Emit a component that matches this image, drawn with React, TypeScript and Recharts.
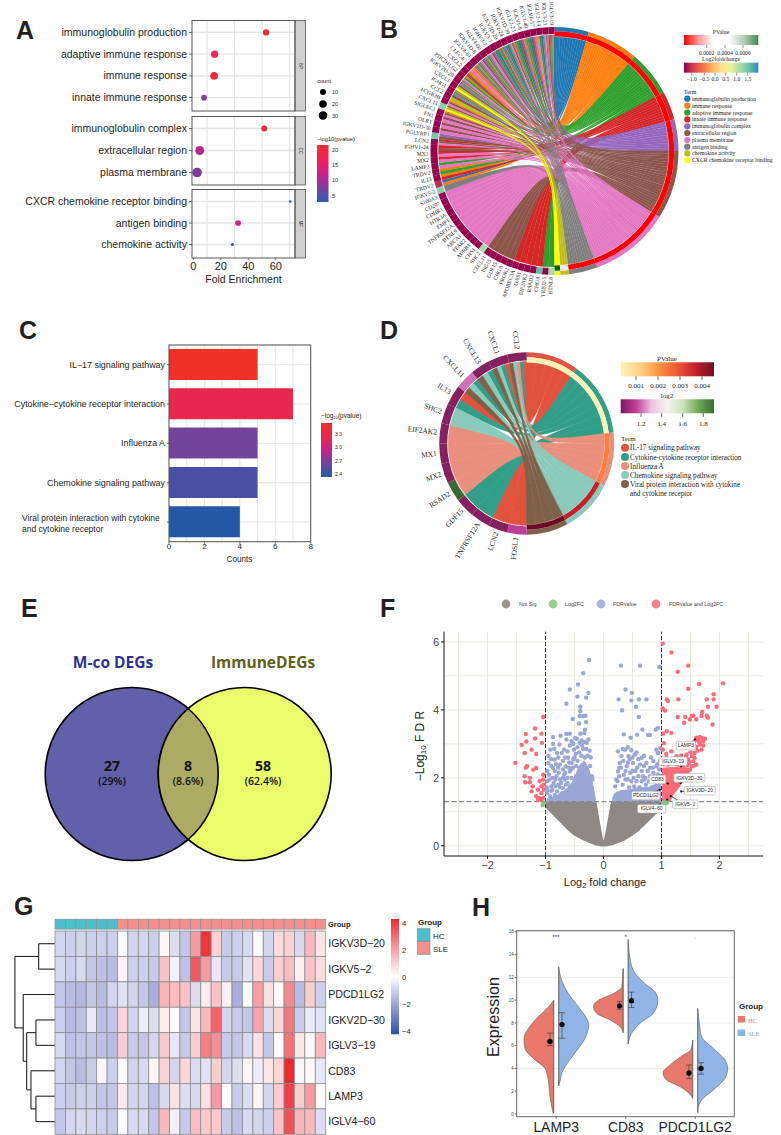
import {
  Area,
  Bar,
  BarChart,
  CartesianGrid,
  Cell,
  ComposedChart,
  Customized,
  ErrorBar,
  Pie,
  PieChart,
  ReferenceLine,
  Scatter,
  ScatterChart,
  XAxis,
  YAxis,
  ZAxis,
} from 'recharts';

const PAGE_W = 781;
const PAGE_H = 1135;
const SANS = '"Liberation Sans", Arial, sans-serif';
const SERIF = '"Liberation Serif", "Times New Roman", serif';
const OPEN = '"Open Sans", sans-serif';

// ---- A: GO dot plot ----
const bpTerms = ['immunoglobulin production', 'adaptive immune response', 'immune response', 'innate immune response'];
const bpFold = [52.9, 15.5, 15.1, 7.8];
const bpCount = [12, 16, 18, 10];
const bpLogP = [20, 18, 20, 9];
const ccTerms = ['immunoglobulin complex', 'extracellular region', 'plasma membrane'];
const ccFold = [51.6, 4.6, 2.7];
const ccCount = [11, 24, 28];
const ccLogP = [20, 13, 9];
const mfTerms = ['CXCR chemokine receptor binding', 'antigen binding', 'chemokine activity'];
const mfFold = [70.5, 32.5, 28.4];
const mfCount = [2, 10, 3];
const mfLogP = [3.5, 14, 4];

// ---- B: GO chord ----
const bTermNames = [
  'immunoglobulin production', 'immune response', 'adaptive immune response', 'innate immune response',
  'immunoglobulin complex', 'extracellular region', 'plasma membrane', 'antigen binding', 'chemokine activity',
  'CXCR chemokine receptor binding',
];
const bTermColors = ['#1f77b4', '#ff7f0e', '#2ca02c', '#d62728', '#9467bd', '#8c564b', '#e377c2', '#7f7f7f', '#bcbd22', '#ffff00'];
const bTermPColors = ['#ff0000', '#ff0000', '#ff0000', '#ff0000', '#ff0000', '#ff0000', '#ff0000', '#ff0000', '#fdeeee', '#006400'];
const bGenes = [
  'BTNL8', 'TRBJ2-5', 'CHGA', 'RSAD2', 'EIF2AK2', 'OAS1', 'APOBEC3A', 'PROK2', 'CHGA', 'GDF15', 'ISG15', 'CXCL11',
  'SHC2', 'CHS1', 'ADRB1', 'FFAR2', 'ABCA1', 'BTNL9', 'TNFRSF12A', 'EMP1', 'HTR3A', 'CDHR1', 'CD207', 'S100A3',
  'IGKV5-2', 'TRDV2', 'IL13', 'TRDV2', 'LAMP3', 'MX2', 'MX1', 'IGHV1-24', 'LCN2', 'PGLYRP1', 'IGKV2D-30', 'OLR1',
  'FN1', 'SIGLEC1', 'CXCL11', 'FCGR3B', 'CCL2', 'IGHG1', 'CXCL1', 'IGKV2D-28', 'PDCD1LG2', 'CXCL2', 'CLEC4C',
  'IGLV8-61', 'IGKV1D-8', 'IGLV4-60', 'IGHV3-7', 'IGKV3-7', 'IGKV3D-20', 'IGKV2-24', 'IGKV1D-39', 'IGLV2-23',
  'IGKV1-8', 'IGLV1-40', 'IGLV6-57', 'IGLV2-14', 'IGLV3-21', 'IGLV3-19',
];
const bGeneTerms = [
  [2], [2], [3], [3], [3], [3], [3], [5], [5], [5], [5], [5],
  [6], [6], [6], [6], [6], [6], [6], [6], [6], [6], [6], [6],
  [7], [0, 1], [1, 3], [1, 2], [2, 6], [3, 6], [3, 6], [3, 5], [3, 5, 6], [4, 5], [5, 6], [5, 6],
  [5, 6], [1, 5, 6], [5, 8, 9], [1, 5, 6], [5, 8], [0, 1, 2, 4, 7], [5, 8, 9], [0, 1, 2, 4, 7], [1, 2, 6], [1, 5], [1, 6],
  [0, 1, 2, 4], [5, 6, 7], [0, 1, 2, 4], [5, 6, 7], [0, 2, 4], [0, 1, 2, 5, 7], [0, 2, 4], [1, 5, 6, 7], [0, 2, 7],
  [1, 4, 5], [0, 2, 7], [1, 4, 5], [0, 2, 6], [1, 4, 6, 7], [0, 1, 2, 4, 5],
];
const bGeneRingDefault = '#97004a';
const bGeneRingOther: Record<number, string> = {
  0: '#a3dcab', 2: '#66bfa8', 12: '#a3dcab', 24: '#86d0ac', 25: '#bb2b52', 33: '#78c9ab', 38: '#86d0ac',
};

// ---- C: KEGG bars ----
const keggTerms = [
  'IL\u221217 signaling pathway', 'Cytokine\u2212cytokine receptor interaction', 'Influenza A',
  'Chemokine signaling pathway', 'Viral protein interaction with cytokine\nand cytokine receptor',
];
const keggCounts = [5, 7, 5, 5, 4];
const keggColors = ['#ef3029', '#e8274c', '#73459a', '#4a4fa2', '#2458a6'];

// ---- D: KEGG chord ----
const dTermNames = [
  'IL-17 signaling pathway', 'Cytokine-cytokine receptor interaction', 'Influenza A', 'Chemokine signaling pathway',
  'Viral protein interaction with cytokine',
];
const dTermColors = ['#e2533f', '#319e88', '#ea8f7d', '#8acabb', '#7e6148'];
const dTermPColors = ['#fdf3b4', '#fdf3b4', '#f9803f', '#c6202c', '#6d0f24'];
const dGenes = ['FOSL1', 'LCN2', 'TNFRSF12A', 'GDF15', 'RSAD2', 'MX2', 'MX1', 'EIF2AK2', 'SHC2', 'IL13', 'CXCL11', 'CXCL13', 'CXCL1', 'CCL2'];
const dGeneTerms = [[0], [0], [1], [1], [2], [2], [2], [2], [3], [0, 1], [1, 3, 4], [1, 3, 4], [0, 1, 3, 4], [0, 1, 2, 3, 4]];
const dGeneRingDefault = '#84215e';
const dGeneRingOther: Record<number, string> = { 0: '#bf3f98', 4: '#3a6b35', 10: '#d070b8' };

// ---- E: Venn ----
const vennSetNames = ['M-co DEGs', 'ImmuneDEGs'];
const vennCounts = [27, 8, 58];
const vennShares = ['(29%)', '(8.6%)', '(62.4%)'];

// ---- F: volcano, x and y ----
const notSigBand = [
  [-1.03, 1.28, 1.3], [-1, 1.16, 1.3], [-0.9, 0.98, 1.3], [-0.75, 0.72, 1.3], [-0.6, 0.46, 1.3], [-0.5, 0.32, 1.3],
  [-0.35, 0.18, 1.3], [-0.25, 0.11, 1.3], [-0.14, 0.04, 1.3], [-0.13, 0.03, 1.25], [-0.09, 0.02, 0.85], [-0.05, 0, 0.45], [-0.015, 0, 0.14],
  [0.015, 0, 0.14], [0.05, 0, 0.42], [0.09, 0.02, 0.8], [0.13, 0.03, 1.2], [0.15, 0.04, 1.3], [0.25, 0.1, 1.3],
  [0.35, 0.17, 1.3], [0.5, 0.33, 1.3], [0.6, 0.45, 1.3], [0.75, 0.7, 1.3], [0.9, 0.95, 1.3], [1, 1.12, 1.3],
].map(([x, lo, hi]) => ({ x, band: [lo, hi] }));
const fdrBandLeft = [
  [-0.98, 1.3, 1.38], [-0.8, 1.3, 1.48], [-0.6, 1.3, 1.7], [-0.5, 1.3, 2.0], [-0.42, 1.3, 2.35],
  [-0.33, 1.3, 2.5], [-0.25, 1.3, 2.25], [-0.18, 1.3, 1.75], [-0.14, 1.3, 1.36],
].map(([x, lo, hi]) => ({ x, band: [lo, hi] }));
const fdrBandRight = [
  [0.15, 1.3, 1.38], [0.2, 1.3, 1.55], [0.3, 1.3, 1.62], [0.45, 1.3, 1.65], [0.6, 1.3, 1.7], [0.8, 1.3, 1.72], [0.99, 1.3, 1.9],
].map(([x, lo, hi]) => ({ x, band: [lo, hi] }));
const bothBand = [
  [1.01, 1.3, 2.28], [1.14, 1.3, 2.3], [1.2, 1.5, 2.3], [1.3, 1.72, 2.3], [1.4, 1.98, 2.3], [1.49, 2.2, 2.28],
].map(([x, lo, hi]) => ({ x, band: [lo, hi] }));
const fdrPoints = [
  [-0.25, 5.47], [-0.35, 5.08], [-0.44, 4.75], [-0.58, 4.6], [-0.26, 4.5], [-0.3, 4.36], [-0.45, 4.39], [-0.64, 4.18],
  [-0.4, 4.09], [-0.4, 3.96], [-0.35, 3.82], [-0.31, 3.83], [-0.41, 3.82], [-0.53, 3.73], [-0.3, 3.64], [-0.42, 3.6],
  [-0.32, 3.42], [-0.33, 3.32], [-0.4, 3.3], [-0.58, 3.3], [-0.64, 3.29], [-0.74, 3.24], [-0.87, 3.2], [-0.49, 3.17],
  [-0.26, 3.13], [-0.87, 3.0], [-0.76, 2.98], [-0.64, 3.13], [-0.55, 3.08], [-0.41, 3.03], [-0.29, 3.03], [-0.68, 2.83],
  [-0.8, 2.73], [-0.92, 2.83], [-0.51, 2.83], [-0.84, 2.54], [-0.72, 2.73], [-0.61, 2.59], [-0.95, 2.44], [-0.87, 2.29],
  [-0.75, 2.39], [-0.65, 2.34], [-0.55, 2.44], [-0.94, 2.09], [-0.81, 2.05], [-0.68, 2.09], [-0.58, 2.19], [-0.9, 1.75],
  [-0.78, 1.8], [-0.65, 1.8], [-0.97, 1.9], [-0.97, 1.55], [-0.84, 1.5], [-0.72, 1.55], [-0.61, 1.65], [-0.45, 2.9],
  [-0.37, 2.95], [-0.5, 2.6], [-0.7, 2.25], [-0.88, 2.0], [-0.83, 1.75], [-0.92, 1.45], [-0.97, 2.2], [-0.62, 2.0],
  [-0.3, 2.85], [-0.22, 2.6], [-0.47, 2.35], [-0.59, 2.45], [-0.77, 2.15], [-0.82, 2.4], [-0.9, 2.55], [-0.66, 2.6],
  [-0.96, 1.62], [-0.9, 1.62], [-0.86, 1.85], [-0.8, 1.6], [-0.75, 1.95], [-0.7, 1.7], [-0.66, 1.55], [-0.62, 1.85],
  [-0.58, 1.75], [-0.55, 2.0], [-0.53, 2.3], [-0.52, 1.72], [-0.7, 2.0], [-0.73, 1.85], [-0.78, 2.3], [-0.84, 2.2],
  [-0.9, 2.35], [-0.95, 2.65], [-0.85, 2.85], [-0.78, 2.6], [-0.7, 2.5], [-0.62, 2.78], [-0.58, 2.95], [-0.52, 2.55],
  [-0.48, 2.7], [-0.45, 2.5], [-0.42, 2.75], [-0.38, 2.65], [-0.35, 2.85], [-0.32, 2.6], [-0.27, 2.65], [-0.24, 2.8],
  [-0.23, 2.35], [-0.2, 2.05], [-0.19, 1.95], [-0.47, 2.05], [-0.56, 2.25], [-0.6, 2.3], [-0.66, 2.15], [-0.83, 1.95],
  [-0.98, 1.72], [-0.93, 1.95], [-0.88, 1.65], [-0.75, 1.72], [-0.67, 1.95], [-0.63, 1.62], [-0.57, 1.5], [-0.7, 1.42],
  [-0.84, 1.38], [-0.46, 3.15], [-0.38, 3.1], [-0.33, 3.05], [-0.52, 3.0],
  [0.3, 5.3], [0.63, 5.3], [0.96, 5.26], [0.38, 4.6], [0.49, 4.5], [0.26, 4.31], [0.61, 4.31], [0.74, 4.31], [0.48, 4.28],
  [0.56, 4.09], [0.32, 3.99], [0.61, 3.79], [0.67, 3.42], [0.94, 3.47], [0.9, 3.42], [0.35, 3.28], [0.47, 3.18], [0.58, 3.27],
  [0.77, 3.26], [0.8, 3.26], [0.25, 2.78], [0.37, 2.83], [0.48, 2.81], [0.31, 2.64], [0.43, 2.64], [0.54, 2.68], [0.66, 2.59],
  [0.74, 2.44], [0.86, 2.49], [0.94, 2.73], [0.98, 2.88], [0.91, 2.83], [0.28, 2.44], [0.4, 2.34], [0.51, 2.44], [0.63, 2.39],
  [0.8, 2.29], [0.91, 2.34], [0.25, 2.19], [0.35, 2.09], [0.46, 2.15], [0.55, 2.2], [0.66, 2.2], [0.8, 2.05], [0.94, 2.1],
  [0.22, 1.95], [0.3, 2.3], [0.42, 1.95], [0.52, 2.0], [0.6, 2.05], [0.72, 2.0], [0.86, 2.15], [0.97, 2.5], [0.93, 2.4], [0.7, 1.95],
  [0.2, 1.75], [0.24, 1.9], [0.27, 2.05], [0.33, 1.8], [0.38, 1.95], [0.38, 2.2], [0.44, 1.72], [0.48, 1.9], [0.5, 2.2],
  [0.53, 1.75], [0.57, 1.9], [0.58, 2.3], [0.62, 1.72], [0.66, 1.9], [0.68, 2.05], [0.7, 2.35], [0.73, 1.8], [0.76, 2.2],
  [0.78, 1.9], [0.83, 1.72], [0.84, 1.95], [0.85, 2.3], [0.88, 2.05], [0.9, 1.85], [0.94, 1.95], [0.96, 2.25], [0.97, 2.05],
  [0.82, 2.6], [0.7, 2.65], [0.6, 2.55], [0.5, 2.6], [0.42, 2.45], [0.34, 2.5], [0.27, 2.3], [0.45, 2.55], [0.57, 2.75],
  [0.42, 2.9], [0.33, 2.85],
];
const bothPoints = [
  [1.02, 5.95], [1.17, 5.69], [1.28, 5.12], [1.46, 5.3], [2.06, 4.78], [1.65, 4.76], [1.46, 4.62], [1.9, 4.46], [1.09, 4.31],
  [1.11, 4.26], [1.29, 4.31], [1.78, 4.31], [1.9, 4.31], [1.95, 4.09], [1.8, 4.09], [1.02, 4.04], [1.06, 3.98], [1.7, 3.94],
  [1.78, 3.83], [1.69, 3.82], [1.28, 3.79], [1.41, 3.79], [1.52, 3.82], [1.55, 3.83], [1.49, 3.72], [1.39, 3.62], [1.6, 3.72],
  [1.8, 3.77], [1.88, 3.57], [1.09, 3.37], [1.03, 3.3], [1.17, 3.32], [1.6, 3.18], [1.66, 3.2], [1.7, 3.17], [1.63, 3.12],
  [1.58, 3.1], [1.72, 3.08], [1.55, 3.03], [1.66, 2.98], [1.72, 2.95], [1.6, 2.91], [1.69, 2.83], [1.02, 2.83], [1.17, 2.78],
  [1.26, 2.64], [1.34, 2.66], [1.43, 2.68], [1.52, 2.64], [1.57, 2.73], [1.57, 2.59], [1.46, 2.54], [1.55, 2.49], [1.6, 2.39],
  [1.52, 2.34], [1.09, 2.59], [1.14, 2.54], [1.2, 2.49], [1.32, 2.52], [1.4, 2.44], [1.49, 2.24], [1.03, 2.44], [1.11, 2.39],
  [1.25, 2.4], [1.45, 2.38], [1.04, 3.02], [1.05, 2.4], [1.15, 2.42], [1.22, 2.55], [1.28, 2.45], [1.36, 2.55], [1.48, 2.46],
  [1.42, 2.6], [1.56, 2.36], [1.08, 2.7], [1.5, 2.75], [1.62, 2.8], [1.65, 3.05], [1.75, 3.15], [1.3, 2.38], [1.38, 2.35],
  [-1.04, 3.79], [-1.18, 3.45], [-1.34, 3.29], [-1.07, 3.3], [-1.18, 3.16], [-1.33, 3.07],
  [-1.41, 2.97], [-1.06, 3.03], [-1.24, 2.83], [-1.36, 2.73], [-1.16, 2.7], [-1.52, 2.44], [-1.32, 2.34], [-1.34, 2.3], [-1.16, 2.29],
  [-1.21, 2.24], [-1.36, 2.05], [-1.27, 2.0], [-1.04, 2.09], [-1.1, 1.9], [-1.35, 1.87], [-1.27, 1.87], [-1.22, 1.75], [-1.07, 1.75],
  [-1.04, 1.95], [-1.13, 1.65], [-1.24, 1.6], [-1.07, 1.55], [-1.16, 1.46], [-1.11, 1.41], [-1.04, 1.41], [-1.13, 1.36], [-1.07, 1.34],
  [-1.03, 1.65], [-1.03, 1.8],
];
const log2fcPoints = [[-1.05, 1.2], [-1.03, 1.25], [1.06, 1.29], [1.09, 1.26], [1.03, 1.26]];
const volcanoGenes = ['LAMP3', 'IGLV3\u221219', 'IGKV2D\u221230', 'CD83', 'IGKV3D\u221220', 'PDCD1LG2', 'IGKV5\u22122', 'IGLV4\u221260'];
const volcanoGeneX = [1.58, 1.34, 1.33, 1.11, 1.34, 0.97, 1.16, 1.1];
const volcanoGeneY = [3.13, 2.34, 1.85, 1.83, 1.6, 1.65, 1.46, 1.36];
const volcanoTagX = [1.42, 1.2, 1.48, 0.93, 1.66, 0.73, 1.41, 0.83];
const volcanoTagY = [2.95, 2.49, 2.0, 1.95, 1.62, 1.48, 1.22, 1.09];

// ---- G: heatmap ----
const heatGenes = ['IGKV3D\u221220', 'IGKV5\u22122', 'PDCD1LG2', 'IGKV2D\u221230', 'IGLV3\u221219', 'CD83', 'LAMP3', 'IGLV4\u221260'];
const heatHcColumns = 6;
const heatValues = [
  [-0.9, -1, -0.9, -1, -1, -1, -0.1, -0.9, -0.9, -1, 0.2, -0.7, -1.2, 2, 3.8, 0.9, -1.1, -1, -0.8, 0.1, -0.9, 0.7, 0.9, -0.8, 1.4, 0.5],
  [-0.8, -1, -0.8, -1.2, -1.3, -1.4, 0.2, -1, -1, -1.1, 1.2, -0.3, -1.3, 3.2, 2, -0.5, -1.1, -1.1, -0.6, 0.8, -1.1, 1, 1.3, 0.3, 1.2, 0.7],
  [-1.2, -1.4, -1.5, -1.2, -1.4, -0.9, -0.6, -0.9, -1.2, -1.7, 1.5, 1.3, 1.2, -0.7, 0.4, 1.2, 0.3, -1.7, -0.1, 1.9, 0.6, 0.05, 2.3, -1.4, 1, -1],
  [-1, -1.4, -1.3, -0.5, -1.3, -1.2, 0.8, -0.9, -0.4, -0.7, 0.4, 0.05, -1.2, 0.6, 1.4, 3, -0.9, -1.1, -1.2, 1.8, -0.7, 0.8, 2.6, -1.1, -0.4, -0.6],
  [-0.8, -1.3, -1.2, -1.2, -1.3, -1.4, 1, -1.1, -1.2, -0.9, 1.1, -0.5, -1.1, 1, 2.5, 2.2, -1.1, -1.2, -0.8, 0.6, -1.2, 0.05, 2.7, 0.5, -0.1, 1.4],
  [-0.9, -1.2, -1.4, -1.1, -0.1, -1, -0.1, -0.9, -0.8, 0.2, 0.9, -0.9, 0.8, -0.7, -0.6, 1, -0.9, -0.7, 0.2, -0.4, 0.5, 0.8, 4, 0.2, 0.1, -0.5],
  [-1, -1.1, -1, -1, -1.2, -1.2, 0.4, -0.9, -0.9, -1.3, -0.8, 0.6, -0.7, -0.8, 0.6, 2, 0.05, -1.1, -0.7, 0.2, -0.9, 1, 3.6, 1, 2, 0.05],
  [-1.2, -0.9, -0.8, -0.9, -1, -1.1, 0.05, -0.8, -0.8, -1.2, 1.4, -0.3, -1.1, 1.3, 1.1, 1.1, -1.1, -1.3, -0.8, -0.9, -1, 1.2, 3.3, 1.5, 1.4, -0.7],
];
// [child, child, height]: a child below 8 is a row, otherwise 8 + index of an earlier merge
const dendroMerges = [
  [0, 1, 1.57], [3, 4, 1.83], [6, 7, 1.83], [5, 10, 2.31], [9, 11, 2.72], [2, 12, 3.05], [8, 13, 3.85],
];

// ---- H: split violins, expression and half width ----
const violinCats = ['LAMP3', 'CD83', 'PDCD1LG2'];
const lamp3HcY = [10, 9.56, 8.39, 7.5, 6.64, 5.76, 4.88, 4, 3.27, 1.52, 0.06];
const lamp3HcW = [0, 11, 51, 76, 89, 86, 61, 26, 18, 11, 2];
const lamp3SleY = [12.92, 11.75, 10.58, 9.42, 8.39, 7.81, 6.64, 5.18, 4.15, 3.57, 2.98, 2.46];
const lamp3SleW = [0, 9, 29, 59, 84, 90, 79, 44, 19, 9, 5, 0];
const cd83HcY = [12.78, 11.9, 11.17, 10.58, 10, 9.47, 8.83, 8.25, 7.66, 7.13];
const cd83HcW = [0, 2, 4, 29, 74, 89, 79, 39, 9, 0];
const cd83SleY = [15.32, 13.8, 12.63, 11.46, 10.73, 10, 8.83, 7.95, 7.08, 6.14];
const cd83SleW = [0, 5, 15, 50, 80, 89, 75, 35, 10, 0];
const pdHcY = [6.49, 5.61, 5.18, 4.3, 3.63, 2.98, 2.4, 1.67, 1.37];
const pdHcW = [0, 6, 28, 68, 89, 78, 38, 6, 0];
const pdSleY = [9.27, 7.95, 6.78, 5.76, 4.74, 4.01, 3.13, 2.11, 1.23, 0.64, 0.12];
const pdSleW = [0, 5, 12, 47, 82, 90, 82, 47, 12, 2, 0];
const hcMeans = [6.37, 9.5, 3.6];
const hcLow = [6.0, 9.2, 3.1];
const hcHigh = [7.1, 9.9, 4.3];
const sleMeans = [7.85, 9.95, 4.0];
const sleLow = [6.65, 9.35, 3.5];
const sleHigh = [8.9, 10.7, 4.5];

const VIOLIN_WIDTH_SCALE = 208.5;
const VIOLIN_GAP = 0.036;

function plotMargin(l: number, t: number, r: number, b: number, yw = 0, xh = 0, yRight = 0) {
  return { left: l - yw, top: t, right: PAGE_W - r - yRight, bottom: PAGE_H - b - xh };
}

function Layer({ children, style }: { children: React.ReactNode; style?: React.CSSProperties }) {
  return <div style={{ position: 'absolute', left: 0, top: 0, width: PAGE_W, height: PAGE_H, ...style }}>{children}</div>;
}

function lerpColor(stops: [number, string][], v: number) {
  const hex = (s: string) => [1, 3, 5].map((i) => parseInt(s.slice(i, i + 2), 16));
  if (v <= stops[0][0]) return stops[0][1];
  for (let i = 1; i < stops.length; i++) {
    if (v <= stops[i][0]) {
      const t = (v - stops[i - 1][0]) / (stops[i][0] - stops[i - 1][0]);
      const a = hex(stops[i - 1][1]);
      const b = hex(stops[i][1]);
      return `rgb(${a.map((c, k) => Math.round(c + (b[k] - c) * t)).join(',')})`;
    }
  }
  return stops[stops.length - 1][1];
}

const goRamp: [number, string][] = [[3, '#2f5ab2'], [9, '#7a3ea0'], [14, '#cf2088'], [18, '#ef2355'], [21, '#f72a2e']];
const heatRamp: [number, string][] = [[-4, '#2a55a8'], [-2, '#9a9fd6'], [-1, '#cdd0ea'], [0, '#ffffff'], [2, '#f59aa0'], [4, '#ee2a2e']];

function TermTick(props: any) {
  return (
    <text x={props.x} y={props.y + 3.6} fontSize={10.5} fill="#222" fontFamily={SANS} textAnchor="end">
      {props.payload.value}
    </text>
  );
}

function DotFacet(props: {
  terms: string[]; fold: number[]; count: number[]; logP: number[];
  top: number; bottom: number; padTop: number; padBottom: number; showX?: boolean;
}) {
  const { terms, fold, count, logP, top, bottom, padTop, padBottom, showX } = props;
  const rows = terms.map((term, i) => ({ term, fold: fold[i], count: count[i] }));
  return (
    <Layer>
      <ScatterChart width={PAGE_W} height={PAGE_H} margin={plotMargin(192, top, 295, bottom, 190, showX ? 30 : 0)}>
        <CartesianGrid stroke="#e4e4e4" strokeWidth={1.2} horizontal={false} verticalValues={[0, 10, 20, 30, 40, 50, 60, 70]} />
        <XAxis
          type="number"
          dataKey="fold"
          domain={[-1, 74]}
          ticks={[0, 20, 40, 60]}
          hide={!showX}
          height={30}
          axisLine={false}
          tickSize={2}
          tick={{ fontSize: 11, fill: '#222', fontFamily: SANS }}
        />
        <YAxis
          type="category"
          dataKey="term"
          width={190}
          interval={0}
          reversed
          axisLine={false}
          tickSize={3}
          padding={{ top: padBottom, bottom: padTop }}
          tick={<TermTick />}
        />
        <ZAxis type="number" dataKey="count" domain={[2, 28]} range={[5.3, 72]} />
        {terms.map((term) => (
          <ReferenceLine key={term} y={term} stroke="#e4e4e4" strokeWidth={1.4} />
        ))}
        <Scatter data={rows} isAnimationActive={false}>
          {rows.map((r, i) => (
            <Cell key={r.term} fill={lerpColor(goRamp, logP[i])} />
          ))}
        </Scatter>
      </ScatterChart>
    </Layer>
  );
}

function polar(cx: number, cy: number, r: number, deg: number) {
  const a = (deg * Math.PI) / 180;
  return [cx + r * Math.sin(a), cy - r * Math.cos(a)];
}

function Ribbons(props: {
  cx: number; cy: number; geneR: number; termR: number; geneTerms: number[][]; termCount: number; colors: string[]; seam: number;
}) {
  const { cx, cy, geneR, termR, geneTerms, termCount, colors, seam } = props;
  const geneArc = 180 / geneTerms.length;
  const total = geneTerms.reduce((s, t) => s + t.length, 0);
  const perLink = 180 / total;
  const geneSlots = new Map<string, [number, number]>();
  geneTerms.forEach((terms, g) => {
    const sorted = [...terms].sort((a, b) => b - a);
    sorted.forEach((t, k) => {
      const w = geneArc / sorted.length;
      geneSlots.set(`${g}:${t}`, [180 + g * geneArc + k * w, 180 + g * geneArc + (k + 1) * w]);
    });
  });
  const paths: React.ReactNode[] = [];
  let cursor = 0;
  for (let t = 0; t < termCount; t++) {
    for (let g = geneTerms.length - 1; g >= 0; g--) {
      if (!geneTerms[g].includes(t)) continue;
      const [a0, a1] = geneSlots.get(`${g}:${t}`)!;
      const [ax, ay] = polar(cx, cy, geneR, a0);
      const [bx, by] = polar(cx, cy, geneR, a1);
      const [tx0, ty0] = polar(cx, cy, termR, cursor);
      const [tx1, ty1] = polar(cx, cy, termR, cursor + perLink);
      cursor += perLink;
      const c = `${cx} ${cy}`;
      const d = `M${ax} ${ay}A${geneR} ${geneR} 0 0 1 ${bx} ${by}C${c} ${c} ${tx0} ${ty0}A${termR} ${termR} 0 0 1 ${tx1} ${ty1}C${c} ${c} ${ax} ${ay}Z`;
      paths.push(<path key={`${g}-${t}`} d={d} fill={colors[t]} stroke={colors[t]} strokeWidth={seam} />);
    }
  }
  return <g>{paths}</g>;
}

function Chord(props: {
  cx: number; cy: number; outer: number; midR: number; inner: number; geneInner: number;
  genes: string[]; geneTerms: number[][]; termColors: string[]; termPColors: string[];
  ringColor: (i: number) => string; fontSize: number; labelGap: number; ribbonGene: number; ribbonTerm: number; seam: number;
}) {
  const { cx, cy, outer, midR, inner, geneInner, genes, geneTerms, termColors, termPColors, ringColor, fontSize, labelGap, ribbonGene, ribbonTerm, seam } = props;
  const termSlices = termColors.map((color, t) => ({ name: String(t), value: geneTerms.filter((g) => g.includes(t)).length, color }));
  const geneSlices = genes.map((name) => ({ name, value: 1 }));
  const renderGene = (p: any) => {
    const mid = ((p.midAngle % 360) + 360) % 360;
    const rad = (mid * Math.PI) / 180;
    const x = cx + (outer + labelGap) * Math.cos(rad);
    const y = cy - (outer + labelGap) * Math.sin(rad);
    return (
      <text
        x={x}
        y={y}
        fontSize={fontSize}
        fontFamily={SERIF}
        fill="#222"
        textAnchor="end"
        dominantBaseline="middle"
        transform={`rotate(${180 - mid} ${x} ${y})`}
      >
        {p.name}
      </text>
    );
  };
  return (
    <PieChart width={PAGE_W} height={PAGE_H} margin={{ top: 0, right: 0, bottom: 0, left: 0 }}>
      <Customized
        component={() => (
          <Ribbons cx={cx} cy={cy} geneR={ribbonGene} termR={ribbonTerm} geneTerms={geneTerms} termCount={termColors.length} colors={termColors} seam={seam} />
        )}
      />
      <Pie data={termSlices} dataKey="value" cx={cx} cy={cy} innerRadius={midR} outerRadius={outer} startAngle={90} endAngle={-90} stroke="none" isAnimationActive={false}>
        {termSlices.map((s) => (
          <Cell key={s.name} fill={s.color} />
        ))}
      </Pie>
      <Pie data={termSlices} dataKey="value" cx={cx} cy={cy} innerRadius={inner} outerRadius={midR} startAngle={90} endAngle={-90} stroke="none" isAnimationActive={false}>
        {termSlices.map((s, i) => (
          <Cell key={s.name} fill={termPColors[i]} />
        ))}
      </Pie>
      <Pie data={geneSlices} dataKey="value" cx={cx} cy={cy} innerRadius={geneInner} outerRadius={outer} startAngle={-90} endAngle={-270} stroke="none" label={renderGene} labelLine={false} isAnimationActive={false}>
        {geneSlices.map((s, i) => (
          <Cell key={i} fill={ringColor(i)} />
        ))}
      </Pie>
    </PieChart>
  );
}

function KeggTick(props: any) {
  const { x, y, payload } = props;
  const lines = String(payload.value).split('\n');
  if (lines.length > 1) {
    return (
      <text fontSize={8.5} fill="#222" fontFamily={SANS}>
        <tspan x={22} y={y - 1}>{lines[0]}</tspan>
        <tspan x={22} y={y + 9.5}>{lines[1]}</tspan>
      </text>
    );
  }
  return <text x={x} y={y + 3} fontSize={8.9} fill="#222" fontFamily={SANS} textAnchor="end">{lines[0]}</text>;
}

function GradBar(p: { id: string; x: number; y: number; w: number; h: number; stops: string[]; vertical?: boolean }) {
  return (
    <g>
      <defs>
        <linearGradient id={p.id} x1="0" y1="0" x2={p.vertical ? '0' : '1'} y2={p.vertical ? '1' : '0'}>
          {p.stops.map((c, i) => (
            <stop key={i} offset={i / (p.stops.length - 1)} stopColor={c} />
          ))}
        </linearGradient>
      </defs>
      <rect x={p.x} y={p.y} width={p.w} height={p.h} fill={`url(#${p.id})`} />
    </g>
  );
}

const t = (x: number, y: number, s: string, size: number, extra: any = {}) => (
  <text x={x} y={y} fontSize={size} fontFamily={SANS} fill="#222" {...extra}>{s}</text>
);

function Overlay() {
  const bLegendY = [98.7, 105.7, 112.6, 119.4, 126.3, 133, 140, 146.7, 153.4, 160];
  const dLegendY = [447.7, 457, 466, 475, 484];
  const serif = { fontFamily: SERIF, fill: '#222' };
  const vennTextX = [112, 188, 263];
  return (
    <Layer>
      <svg width={PAGE_W} height={PAGE_H} style={{ display: 'block' }}>
        {/* panel letters */}
        {[['A', 16, 39], ['B', 380, 38], ['C', 19, 339], ['D', 380, 339], ['E', 21, 617], ['F', 380, 617], ['G', 14, 915], ['H', 472, 916]].map(([l, x, y]) => (
          <text key={l as string} x={x as number} y={y as number} fontSize={25} fontWeight={700} fontFamily={SANS} fill="#231f20">{l}</text>
        ))}

        {/* A frames, strips, legends */}
        {[[20.5, 111, 'BP'], [116.5, 185, 'CC'], [189.5, 258, 'MF']].map(([y0, y1, s]) => (
          <g key={s as string}>
            <rect x={295} y={y0 as number} width={10.5} height={(y1 as number) - (y0 as number)} fill="#cfcfcf" stroke="#555" strokeWidth={0.8} />
            <rect x={192} y={y0 as number} width={103} height={(y1 as number) - (y0 as number)} fill="none" stroke="#555" strokeWidth={1} />
            <text x={0} y={0} fontSize={4.5} fontFamily={SANS} fill="#333" textAnchor="middle" transform={`translate(298.5 ${((y0 as number) + (y1 as number)) / 2}) rotate(90)`}>{s}</text>
          </g>
        ))}
        {t(243.5, 283, 'Fold Enrichment', 10.5, { textAnchor: 'middle' })}
        {t(317, 83, 'count', 5.8)}
        {[[92, 3, '10'], [104, 3.8, '20'], [115.5, 4.3, '30']].map(([y, r, s]) => (
          <g key={s as string}>
            <circle cx={323} cy={y as number} r={r as number} fill="#000" />
            {t(332, (y as number) + 2, s as string, 5.5)}
          </g>
        ))}
        {t(317, 141, '\u2212log10(pvalue)', 5.7)}
        <GradBar id="ga" x={317} y={145} w={11.5} h={57} vertical stops={['#f72a2e', '#ef2355', '#cf2088', '#7a3ea0', '#2f5ab2']} />
        {[[152, '20'], [167, '15'], [182, '10'], [198, '5']].map(([y, s]) => (
          <g key={s as string}>{t(332, y as number, s as string, 5.5)}</g>
        ))}

        {/* B legend */}
        <text x={721} y={33.5} fontSize={5.8} textAnchor="middle" {...serif}>PValue</text>
        <GradBar id="gb1" x={684} y={35} w={74.3} h={10} stops={['#ff0000', '#ff9a9a', '#ffffff', '#ffffff', '#b8ccb8', '#3f8a4a']} />
        {[[706.7, '0.0002'], [725, '0.0004'], [743, '0.0006']].map(([x, s]) => (
          <g key={s as string}>
            <line x1={x as number} x2={x as number} y1={45} y2={48} stroke="#222" strokeWidth={0.5} />
            <text x={x as number} y={55} fontSize={5.6} textAnchor="middle" {...serif}>{s}</text>
          </g>
        ))}
        <text x={721} y={61} fontSize={5.8} textAnchor="middle" {...serif}>Log2foldchange</text>
        <GradBar id="gb2" x={684} y={62.7} w={74.3} h={10} stops={['#8e0152', '#d53e4f', '#f46d43', '#fdae61', '#fee08b', '#e6f598', '#abdda4', '#66c2a5', '#3288bd']} />
        {[[691.7, '\u22121.0'], [704.3, '\u22120.5'], [715, '0.0'], [725.7, '0.5'], [736.7, '1.0'], [747.7, '1.5']].map(([x, s]) => (
          <g key={s as string}>
            <line x1={x as number} x2={x as number} y1={72.7} y2={75.5} stroke="#222" strokeWidth={0.5} />
            <text x={x as number} y={81} fontSize={5.6} textAnchor="middle" {...serif}>{s}</text>
          </g>
        ))}
        <text x={684} y={94} fontSize={5.8} {...serif}>Term</text>
        {bTermNames.map((n, i) => (
          <g key={n}>
            <circle cx={687.3} cy={bLegendY[i]} r={3.1} fill={bTermColors[i]} />
            <text x={692} y={bLegendY[i] + 2} fontSize={5.7} {...serif}>{n}</text>
          </g>
        ))}

        {/* C */}
        <rect x={169} y={345} width={141.7} height={196.7} fill="none" stroke="#555" strokeWidth={1} />
        {t(239.5, 562, 'Counts', 8.2, { textAnchor: 'middle' })}
        <text x={321} y={418} fontSize={6.5} fontFamily={SANS} fill="#222">{'\u2212log'}<tspan fontSize={4} dy={1}>10</tspan><tspan dy={-1}>(pvalue)</tspan></text>
        <GradBar id="gc" x={321} y={423} w={11} h={54} vertical stops={['#ef3029', '#e8274c', '#c4238e', '#6f469c', '#2458a6']} />
        {[[436, '3.3'], [449, '3.0'], [462.5, '2.7'], [475.5, '2.4']].map(([y, s]) => (
          <g key={s as string}>{t(335, y as number, s as string, 5)}</g>
        ))}

        {/* D legend */}
        <text x={667} y={361} fontSize={7} textAnchor="middle" {...serif}>PValue</text>
        <GradBar id="gd1" x={620.7} y={362.3} w={93.3} h={14} stops={['#fdf3b4', '#fcd38a', '#f9963f', '#ee5a35', '#c6202c', '#6d0f24']} />
        {[[636, '0.001'], [658, '0.002'], [680, '0.003'], [702, '0.004']].map(([x, s]) => (
          <g key={s as string}>
            <line x1={x as number} x2={x as number} y1={376.3} y2={380} stroke="#222" strokeWidth={0.7} />
            <text x={x as number} y={388} fontSize={7} textAnchor="middle" {...serif}>{s}</text>
          </g>
        ))}
        <text x={667} y={398} fontSize={7} textAnchor="middle" {...serif}>log2</text>
        <GradBar id="gd2" x={620.7} y={399.3} w={93.3} h={14} stops={['#7b1a5f', '#c2429a', '#ecc4e0', '#f4f4f0', '#c8e3b8', '#6eaa52', '#3a6b35']} />
        {[[641, '1.2'], [661.7, '1.4'], [682.7, '1.6'], [703.3, '1.8']].map(([x, s]) => (
          <g key={s as string}>
            <line x1={x as number} x2={x as number} y1={413.3} y2={417} stroke="#222" strokeWidth={0.7} />
            <text x={x as number} y={426} fontSize={7} textAnchor="middle" {...serif}>{s}</text>
          </g>
        ))}
        <text x={621} y={441} fontSize={7} {...serif}>Term</text>
        {dTermNames.map((n, i) => (
          <g key={n}>
            <circle cx={625} cy={dLegendY[i]} r={4} fill={dTermColors[i]} />
            <text x={630} y={dLegendY[i] + 2.5} fontSize={7.2} {...serif}>{n}</text>
          </g>
        ))}
        <text x={630} y={496} fontSize={7.2} {...serif}>and cytokine receptor</text>

        {/* E text */}
        <text x={113} y={668} fontSize={15.5} fontWeight={700} fontFamily={OPEN} fill="#2e3192" textAnchor="middle">{vennSetNames[0]}</text>
        <text x={263} y={668} fontSize={15.5} fontWeight={700} fontFamily={OPEN} fill="#5f6019" textAnchor="middle">{vennSetNames[1]}</text>
        {vennCounts.map((c, i) => (
          <g key={c}>
            <text x={vennTextX[i]} y={771} fontSize={14} fontWeight={700} fontFamily={OPEN} fill="#111" textAnchor="middle">{c}</text>
            <text x={vennTextX[i]} y={785} fontSize={10.5} fontWeight={600} fontFamily={OPEN} fill="#111" textAnchor="middle">{vennShares[i]}</text>
          </g>
        ))}

        {/* F legend + labels */}
        {[[506, '#9a948e', 'Not Sig', 519], [553, '#93cf8f', 'Log2FC', 565], [601, '#aab3da', 'FDRvalue', 613], [656, '#fb7d88', 'FDRvalue and Log2FC', 669]].map(([cx, col, s, x]) => (
          <g key={s as string}>
            <circle cx={cx as number} cy={604} r={4.4} fill={col as string} />
            <text x={x as number} y={606} fontSize={5.3} fontFamily={SANS} fill="#444">{s}</text>
          </g>
        ))}
        <text x={0} y={0} fontSize={12} fontFamily={SANS} fill="#222" textAnchor="middle" transform="translate(424 746) rotate(-90)">
          {'\u2212Log'}<tspan fontSize={8} dy={2}>10</tspan><tspan dy={-2}> F D R</tspan>
        </text>
        <text x={605} y={886} fontSize={11} fontFamily={SANS} fill="#222" textAnchor="middle">
          Log<tspan fontSize={7.5} dy={2}>2</tspan><tspan dy={-2}> fold change</tspan>
        </text>

        {/* G legends */}
        {t(328, 927, 'Group', 7.5, { fontWeight: 700 })}
        <GradBar id="gg" x={391} y={919} w={8} h={115.3} vertical stops={['#ee2a2e', '#f59aa0', '#ffffff', '#9a9fd6', '#2a55a8']} />
        {[[925.5, '4'], [952.7, '2'], [979.5, '0'], [1006.7, '\u22122'], [1033.7, '\u22124']].map(([y, s]) => (
          <g key={s as string}>{t(402, y as number, s as string, 7.6)}</g>
        ))}
        {t(418, 925, 'Group', 8, { fontWeight: 700 })}
        <rect x={417.3} y={928.7} width={12.7} height={12.6} fill="#4dbecb" stroke="#8c8c8c" strokeWidth={0.7} />
        <rect x={417.3} y={941.3} width={12.7} height={13} fill="#f28f8f" stroke="#8c8c8c" strokeWidth={0.7} />
        {t(433, 938.5, 'HC', 8)}
        {t(433, 951.5, 'SLE', 8)}

        {/* H frame, legend */}
        <rect x={516.7} y={930.7} width={217.6} height={186} fill="none" stroke="#666" strokeWidth={1} />
        <text x={0} y={0} fontSize={16.2} fontFamily={SANS} fill="#222" textAnchor="middle" transform="translate(499 1017) rotate(-90)">Expression</text>
        {[[556, '***'], [625.7, '*'], [695, '.']].map(([x, s]) => (
          <text key={s as string} x={x as number} y={938.5} fontSize={6} fontFamily={SANS} fill="#333" textAnchor="middle">{s}</text>
        ))}
        {t(739, 1009, 'Group', 8, { fontWeight: 700 })}
        <rect x={737.7} y={1016} width={7.5} height={6.5} fill="#e8796a" />
        <rect x={737.7} y={1029.5} width={7.5} height={6.5} fill="#8fb4e6" />
        <text x={748} y={1022.5} fontSize={6.5} fontFamily={SERIF} fill="#e87a6d">HC</text>
        <text x={748} y={1036} fontSize={6.5} fontFamily={SERIF} fill="#7aa6e0">SLE</text>
      </svg>
    </Layer>
  );
}

function PanelC() {
  const rows = keggTerms.map((term, i) => ({ term, counts: keggCounts[i] }));
  return (
    <Layer>
      <BarChart width={PAGE_W} height={PAGE_H} layout="vertical" data={rows} margin={plotMargin(169, 345, 310.7, 541.7, 160, 14)} barCategoryGap="10%">
        <CartesianGrid stroke="#e6e6e6" strokeWidth={1} verticalValues={[0, 1, 2, 3, 4, 5, 6, 7, 8]} />
        <XAxis type="number" domain={[0, 8]} ticks={[0, 2, 4, 6, 8]} height={14} axisLine={false} tickSize={2} tickMargin={0} tick={{ fontSize: 8, fill: '#222', fontFamily: SANS }} />
        <YAxis type="category" dataKey="term" width={160} interval={0} axisLine={false} tickSize={2} tick={<KeggTick />} />
        <Bar dataKey="counts" isAnimationActive={false}>
          {rows.map((r, i) => (
            <Cell key={r.term} fill={keggColors[i]} />
          ))}
        </Bar>
      </BarChart>
    </Layer>
  );
}

function PanelE() {
  const R = 86.5;
  const D = 113;
  const half = Math.sqrt(R * R - (D / 2) * (D / 2));
  const shape = (p: any) => {
    if (p.payload.kind === 'lens') {
      const d = `M${p.cx} ${p.cy - half}A${R} ${R} 0 0 1 ${p.cx} ${p.cy + half}A${R} ${R} 0 0 1 ${p.cx} ${p.cy - half}Z`;
      return <path d={d} fill="#abab63" stroke="#000" strokeWidth={1.6} />;
    }
    return <circle cx={p.cx} cy={p.cy} r={R} fill={p.payload.fill} stroke="#000" strokeWidth={1.6} />;
  };
  const sets = [
    { x: 0, y: 0, kind: 'set', fill: '#6260a8' },
    { x: 1, y: 0, kind: 'set', fill: '#eafc6a' },
    { x: 0.5, y: 0, kind: 'lens', fill: '#abab63' },
  ];
  return (
    <Layer>
      <ScatterChart width={PAGE_W} height={PAGE_H} margin={plotMargin(18.7, 674, 357.7, 874)}>
        <XAxis type="number" dataKey="x" domain={[-1, 2]} hide />
        <YAxis type="number" dataKey="y" domain={[-1, 1]} hide />
        <Scatter data={sets} shape={shape} isAnimationActive={false} />
      </ScatterChart>
    </Layer>
  );
}

function PanelF() {
  const asPts = (rows: number[][]) => rows.map(([x, y]) => ({ x, y }));
  const tags = volcanoGenes.map((g, i) => ({ x: volcanoTagX[i], y: volcanoTagY[i], g }));
  const targets = volcanoGenes.map((g, i) => ({ x: volcanoGeneX[i], y: volcanoGeneY[i], g }));
  const minus = (v: number) => String(v).replace('-', '\u2212');
  const tagShape = (p: any) => {
    const w = p.payload.g.length * 2.9 + 5;
    return (
      <g>
        <rect x={p.cx - w / 2} y={p.cy - 4.3} width={w} height={8.6} rx={1.5} fill="#fff" stroke="#aaa" strokeWidth={0.6} />
        <text x={p.cx} y={p.cy + 1.7} fontSize={4.9} fontFamily={SANS} fill="#222" textAnchor="middle">{p.payload.g}</text>
      </g>
    );
  };
  return (
    <Layer>
      <ComposedChart width={PAGE_W} height={PAGE_H} margin={plotMargin(444, 631.7, 763, 856, 20, 18)}>
        <CartesianGrid stroke="#e8e6dc" strokeWidth={0.9} verticalValues={[-2.5, -2, -1.5, -1, -0.5, 0, 0.5, 1, 1.5, 2, 2.5]} horizontalValues={[0, 1, 2, 3, 4, 5, 6]} />
        <XAxis type="number" dataKey="x" domain={[-2.75, 2.75]} ticks={[-2, -1, 0, 1, 2]} height={18} stroke="#111" tickFormatter={minus} tickSize={3} tick={{ fontSize: 11, fill: '#444', fontFamily: SANS }} />
        <YAxis type="number" dataKey="y" domain={[-0.3, 6.3]} ticks={[0, 2, 4, 6]} width={20} stroke="#111" tickSize={3} tick={{ fontSize: 10.5, fill: '#444', fontFamily: SANS }} />
        <ZAxis range={[15, 15]} />
        <Area data={notSigBand} dataKey="band" type="linear" fill="#8e8985" fillOpacity={1} stroke="#8e8985" strokeWidth={1.5} dot={false} isAnimationActive={false} />
        <Area data={fdrBandLeft} dataKey="band" type="linear" fill="#9aa7d6" fillOpacity={1} stroke="#9aa7d6" strokeWidth={1} dot={false} isAnimationActive={false} />
        <Area data={fdrBandRight} dataKey="band" type="linear" fill="#9aa7d6" fillOpacity={1} stroke="#9aa7d6" strokeWidth={1} dot={false} isAnimationActive={false} />
        <Area data={bothBand} dataKey="band" type="linear" fill="#fb6b78" fillOpacity={1} stroke="#fb6b78" strokeWidth={1} dot={false} isAnimationActive={false} />
        <Scatter data={asPts(fdrPoints)} fill="#9aa7d6" isAnimationActive={false} />
        <Scatter data={asPts(bothPoints)} fill="#fb6b78" isAnimationActive={false} />
        <Scatter data={asPts(log2fcPoints)} fill="#7fc97f" isAnimationActive={false} />
        <ReferenceLine x={-1} stroke="#222" strokeDasharray="4 2" strokeWidth={0.9} />
        <ReferenceLine x={1} stroke="#222" strokeDasharray="4 2" strokeWidth={0.9} />
        <ReferenceLine y={1.3} stroke="#888" strokeDasharray="5 2.5" strokeWidth={1.1} />
        {tags.map((tag, i) => (
          <ReferenceLine key={tag.g} segment={[{ x: tag.x, y: tag.y }, { x: targets[i].x, y: targets[i].y }]} stroke="#111" strokeWidth={0.7} />
        ))}
        <Scatter data={targets} shape={(p: any) => <circle cx={p.cx} cy={p.cy} r={1.1} fill="#111" />} isAnimationActive={false} />
        <Scatter data={tags} shape={tagShape} isAnimationActive={false} />
      </ComposedChart>
    </Layer>
  );
}

function PanelG() {
  const colW = 10.41;
  const rowH = 25.4;
  const cells = heatValues.flatMap((row, r) => row.map((v, c) => ({ x: c + 0.5, y: r + 0.5, v })));
  const groupCells = heatValues[0].map((_, c) => ({ x: c + 0.5, y: -0.27, hc: c < heatHcColumns }));
  const nodes: { y: number; h: number }[] = heatGenes.map((_, r) => ({ y: r + 0.5, h: 0 }));
  const segs: { x: number; y: number }[][] = [];
  dendroMerges.forEach(([a, b, h]) => {
    const na = nodes[a];
    const nb = nodes[b];
    segs.push([{ x: -na.h, y: na.y }, { x: -h, y: na.y }]);
    segs.push([{ x: -nb.h, y: nb.y }, { x: -h, y: nb.y }]);
    segs.push([{ x: -h, y: na.y }, { x: -h, y: nb.y }]);
    nodes.push({ y: (na.y + nb.y) / 2, h });
  });
  return (
    <Layer>
      <ScatterChart width={PAGE_W} height={PAGE_H} margin={plotMargin(13.36, 905.6, 325.7, 1134.3, 0, 0, 110)}>
        <XAxis type="number" dataKey="x" domain={[-4, 26]} hide />
        <YAxis
          type="number"
          dataKey="y"
          orientation="right"
          reversed
          domain={[-1, 8]}
          ticks={heatGenes.map((_, i) => i + 0.5)}
          interval={0}
          width={110}
          axisLine={false}
          tickLine={false}
          tickMargin={0}
          tickFormatter={(v: number) => heatGenes[Math.floor(v)]}
          tick={{ fontSize: 10.6, fill: '#222', fontFamily: SANS, dx: -3.5 }}
        />
        <Scatter
          data={cells}
          isAnimationActive={false}
          shape={(p: any) => (
            <rect x={p.cx - colW / 2} y={p.cy - rowH / 2} width={colW} height={rowH} fill={lerpColor(heatRamp, p.payload.v)} stroke="#8c8c8c" strokeWidth={0.8} />
          )}
        />
        <Scatter
          data={groupCells}
          isAnimationActive={false}
          shape={(p: any) => (
            <rect x={p.cx - colW / 2} y={p.cy - 5} width={colW} height={10} fill={p.payload.hc ? '#4dbecb' : '#f28f8f'} stroke="#8c8c8c" strokeWidth={0.6} />
          )}
        />
        {segs.map((segment, i) => (
          <ReferenceLine key={i} segment={segment} stroke="#222" strokeWidth={1.1} ifOverflow="visible" />
        ))}
      </ScatterChart>
    </Layer>
  );
}

function halfViolin(ys: number[], widths: number[], pos: number, side: number) {
  const base = pos + side * VIOLIN_GAP;
  return ys.map((y, i) => {
    const edge = base + (side * widths[i]) / VIOLIN_WIDTH_SCALE;
    return { y, band: side < 0 ? [edge, base] : [base, edge] };
  });
}

function PanelH() {
  const violins = [
    { d: halfViolin(lamp3HcY, lamp3HcW, 1, -1), fill: '#e8796a', ys: lamp3HcY, pos: 1, side: -1 },
    { d: halfViolin(lamp3SleY, lamp3SleW, 1, 1), fill: '#8fb4e6', ys: lamp3SleY, pos: 1, side: 1 },
    { d: halfViolin(cd83HcY, cd83HcW, 2, -1), fill: '#e8796a', ys: cd83HcY, pos: 2, side: -1 },
    { d: halfViolin(cd83SleY, cd83SleW, 2, 1), fill: '#8fb4e6', ys: cd83SleY, pos: 2, side: 1 },
    { d: halfViolin(pdHcY, pdHcW, 3, -1), fill: '#e8796a', ys: pdHcY, pos: 3, side: -1 },
    { d: halfViolin(pdSleY, pdSleW, 3, 1), fill: '#8fb4e6', ys: pdSleY, pos: 3, side: 1 },
  ];
  const hcDots = hcMeans.map((y, i) => ({ x: i + 1 - 0.089, y, err: [y - hcLow[i], hcHigh[i] - y] }));
  const sleDots = sleMeans.map((y, i) => ({ x: i + 1 + 0.084, y, err: [y - sleLow[i], sleHigh[i] - y] }));
  return (
    <Layer>
      <ComposedChart width={PAGE_W} height={PAGE_H} layout="vertical" margin={plotMargin(516.7, 930.7, 734.3, 1116.7, 16, 18)}>
        <CartesianGrid stroke="#eeeeee" vertical={false} horizontalValues={[0, 2, 4, 6, 8, 10, 12, 14, 16]} />
        <XAxis type="number" dataKey="x" domain={[0.432, 3.563]} ticks={[1, 2, 3]} height={18} axisLine={false} tickSize={2} tickMargin={3} tickFormatter={(v: number) => violinCats[v - 1]} tick={{ fontSize: 13.9, fill: '#222', fontFamily: SANS }} />
        <YAxis type="number" dataKey="y" reversed domain={[-0.24, 16.1]} ticks={[0, 2, 4, 6, 8, 10, 12, 14, 16]} width={16} axisLine={false} tickSize={2} tickMargin={1} tick={{ fontSize: 4.5, fill: '#444', fontFamily: SANS }} />
        <ZAxis range={[22, 22]} />
        {violins.map((v, i) => (
          <Area key={i} data={v.d} dataKey="band" type="monotone" fill={v.fill} fillOpacity={1} stroke="#5a5a5a" strokeWidth={0.6} dot={false} isAnimationActive={false} />
        ))}
        {violins.map((v, i) => (
          <ReferenceLine
            key={i}
            segment={[
              { x: v.pos + v.side * VIOLIN_GAP, y: v.ys[0] },
              { x: v.pos + v.side * VIOLIN_GAP, y: v.ys[v.ys.length - 1] },
            ]}
            stroke="#5a5a5a"
            strokeWidth={0.6}
          />
        ))}
        <Scatter data={hcDots} fill="#000" isAnimationActive={false}>
          <ErrorBar dataKey="err" direction="y" width={3} stroke="#444" strokeWidth={0.7} />
        </Scatter>
        <Scatter data={sleDots} fill="#000" isAnimationActive={false}>
          <ErrorBar dataKey="err" direction="y" width={3} stroke="#444" strokeWidth={0.7} />
        </Scatter>
      </ComposedChart>
    </Layer>
  );
}

export default function App() {
  return (
    <div style={{ position: 'absolute', left: 0, top: 0, width: PAGE_W, height: PAGE_H, background: '#fff', overflow: 'hidden' }}>
      <DotFacet terms={bpTerms} fold={bpFold} count={bpCount} logP={bpLogP} top={20.5} bottom={111} padTop={2.5} padBottom={1} />
      <DotFacet terms={ccTerms} fold={ccFold} count={ccCount} logP={ccLogP} top={116.5} bottom={185} padTop={1.5} padBottom={1} />
      <DotFacet terms={mfTerms} fold={mfFold} count={mfCount} logP={mfLogP} top={189.5} bottom={258} padTop={2.75} padBottom={1.25} showX />
      <Layer>
        <Chord
          cx={554.5} cy={151} outer={124} midR={119.7} inner={114.5} geneInner={117}
          genes={bGenes} geneTerms={bGeneTerms} termColors={bTermColors} termPColors={bTermPColors}
          ringColor={(i) => bGeneRingOther[i] ?? bGeneRingDefault}
          fontSize={5.6} labelGap={2} ribbonGene={116} ribbonTerm={114} seam={0.3}
        />
      </Layer>
      <PanelC />
      <Layer style={{ transform: 'scaleY(1.043)', transformOrigin: '0 443.5px' }}>
        <Chord
          cx={526.7} cy={443.5} outer={87.5} midR={82.7} inner={78} geneInner={79.5}
          genes={dGenes} geneTerms={dGeneTerms} termColors={dTermColors} termPColors={dTermPColors}
          ringColor={(i) => dGeneRingOther[i] ?? dGeneRingDefault}
          fontSize={7.4} labelGap={3} ribbonGene={78.5} ribbonTerm={77.5} seam={0.6}
        />
      </Layer>
      <PanelE />
      <PanelF />
      <PanelG />
      <PanelH />
      <Overlay />
    </div>
  );
}
